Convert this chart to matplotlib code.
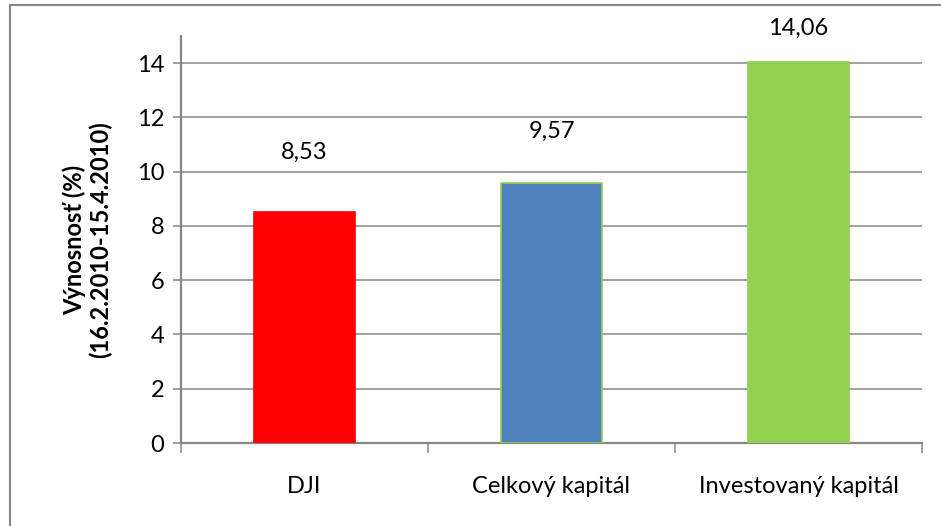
import matplotlib
matplotlib.use("Agg")
import matplotlib.pyplot as plt
from matplotlib.patches import Rectangle

# chart data
categories = ["DJI", "Celkový kapitál", "Investovaný kapitál"]
values = [8.53, 9.57, 14.06]
value_labels = ["8,53", "9,57", "14,06"]
label_offsets = [2.19, 1.93, 1.23]  # labels were placed by hand in the original
bar_colors = ["#FF0000", "#4F81BD", "#92D050"]
edge_colors = ["#FF0000", "#92D050", "#92D050"]
y_ticks = [0, 2, 4, 6, 8, 10, 12, 14]

plt.rcParams['font.family'] = ['Lato', 'DejaVu Sans']
grid_col = "#868686"
fs = 17

fig = plt.figure(figsize=(9.41, 5.26), dpi=100)
ax = fig.add_axes([181 / 941, 1 - 443 / 526, (922 - 181) / 941, (443 - 36) / 526])

# frame around whole chart (right/bottom edges fall outside the picture)
fig.patches.append(Rectangle((10 / 941, -0.1), 1.2, 1 - 5 / 526 + 0.1,
                             transform=fig.transFigure, fill=False,
                             edgecolor=grid_col, linewidth=1.5))

x = list(range(len(categories)))
ax.bar(x, values, width=0.405, color=bar_colors, edgecolor=edge_colors,
       linewidth=1.2, zorder=3)

for i in range(len(values)):
    ax.text(x[i], values[i] + label_offsets[i], value_labels[i],
            ha="center", va="center", fontsize=fs, color="black")

ax.set_xlim(-0.5, len(categories) - 0.5)
ax.set_ylim(0, 15)
ax.set_yticks(y_ticks)
ax.set_yticklabels([str(t) for t in y_ticks], fontsize=fs)
ax.yaxis.grid(True, color=grid_col, linewidth=1.1, zorder=0)
ax.set_axisbelow(True)

# category boundaries as ticks, names centred between them
ax.set_xticks([i - 0.5 for i in range(len(categories) + 1)])
ax.set_xticklabels([])
ax.set_xticks(x, minor=True)
ax.set_xticklabels(categories, minor=True, fontsize=fs)
ax.tick_params(axis="x", which="major", length=7, width=1.1, color=grid_col)
ax.tick_params(axis="x", which="minor", length=0, pad=24)
ax.tick_params(axis="y", length=6, width=1.1, color=grid_col, pad=6)

for s in ["top", "right"]:
    ax.spines[s].set_visible(False)
ax.spines["left"].set_color(grid_col)
ax.spines["left"].set_linewidth(1.6)
ax.spines["bottom"].set_color(grid_col)
ax.spines["bottom"].set_linewidth(1.6)

ax.set_ylabel("Výnosnosť (%)\n(16.2.2010-15.4.2010)", fontsize=fs,
              fontweight="bold", labelpad=18, linespacing=1.1)

fig.savefig("out.png", dpi=100)
